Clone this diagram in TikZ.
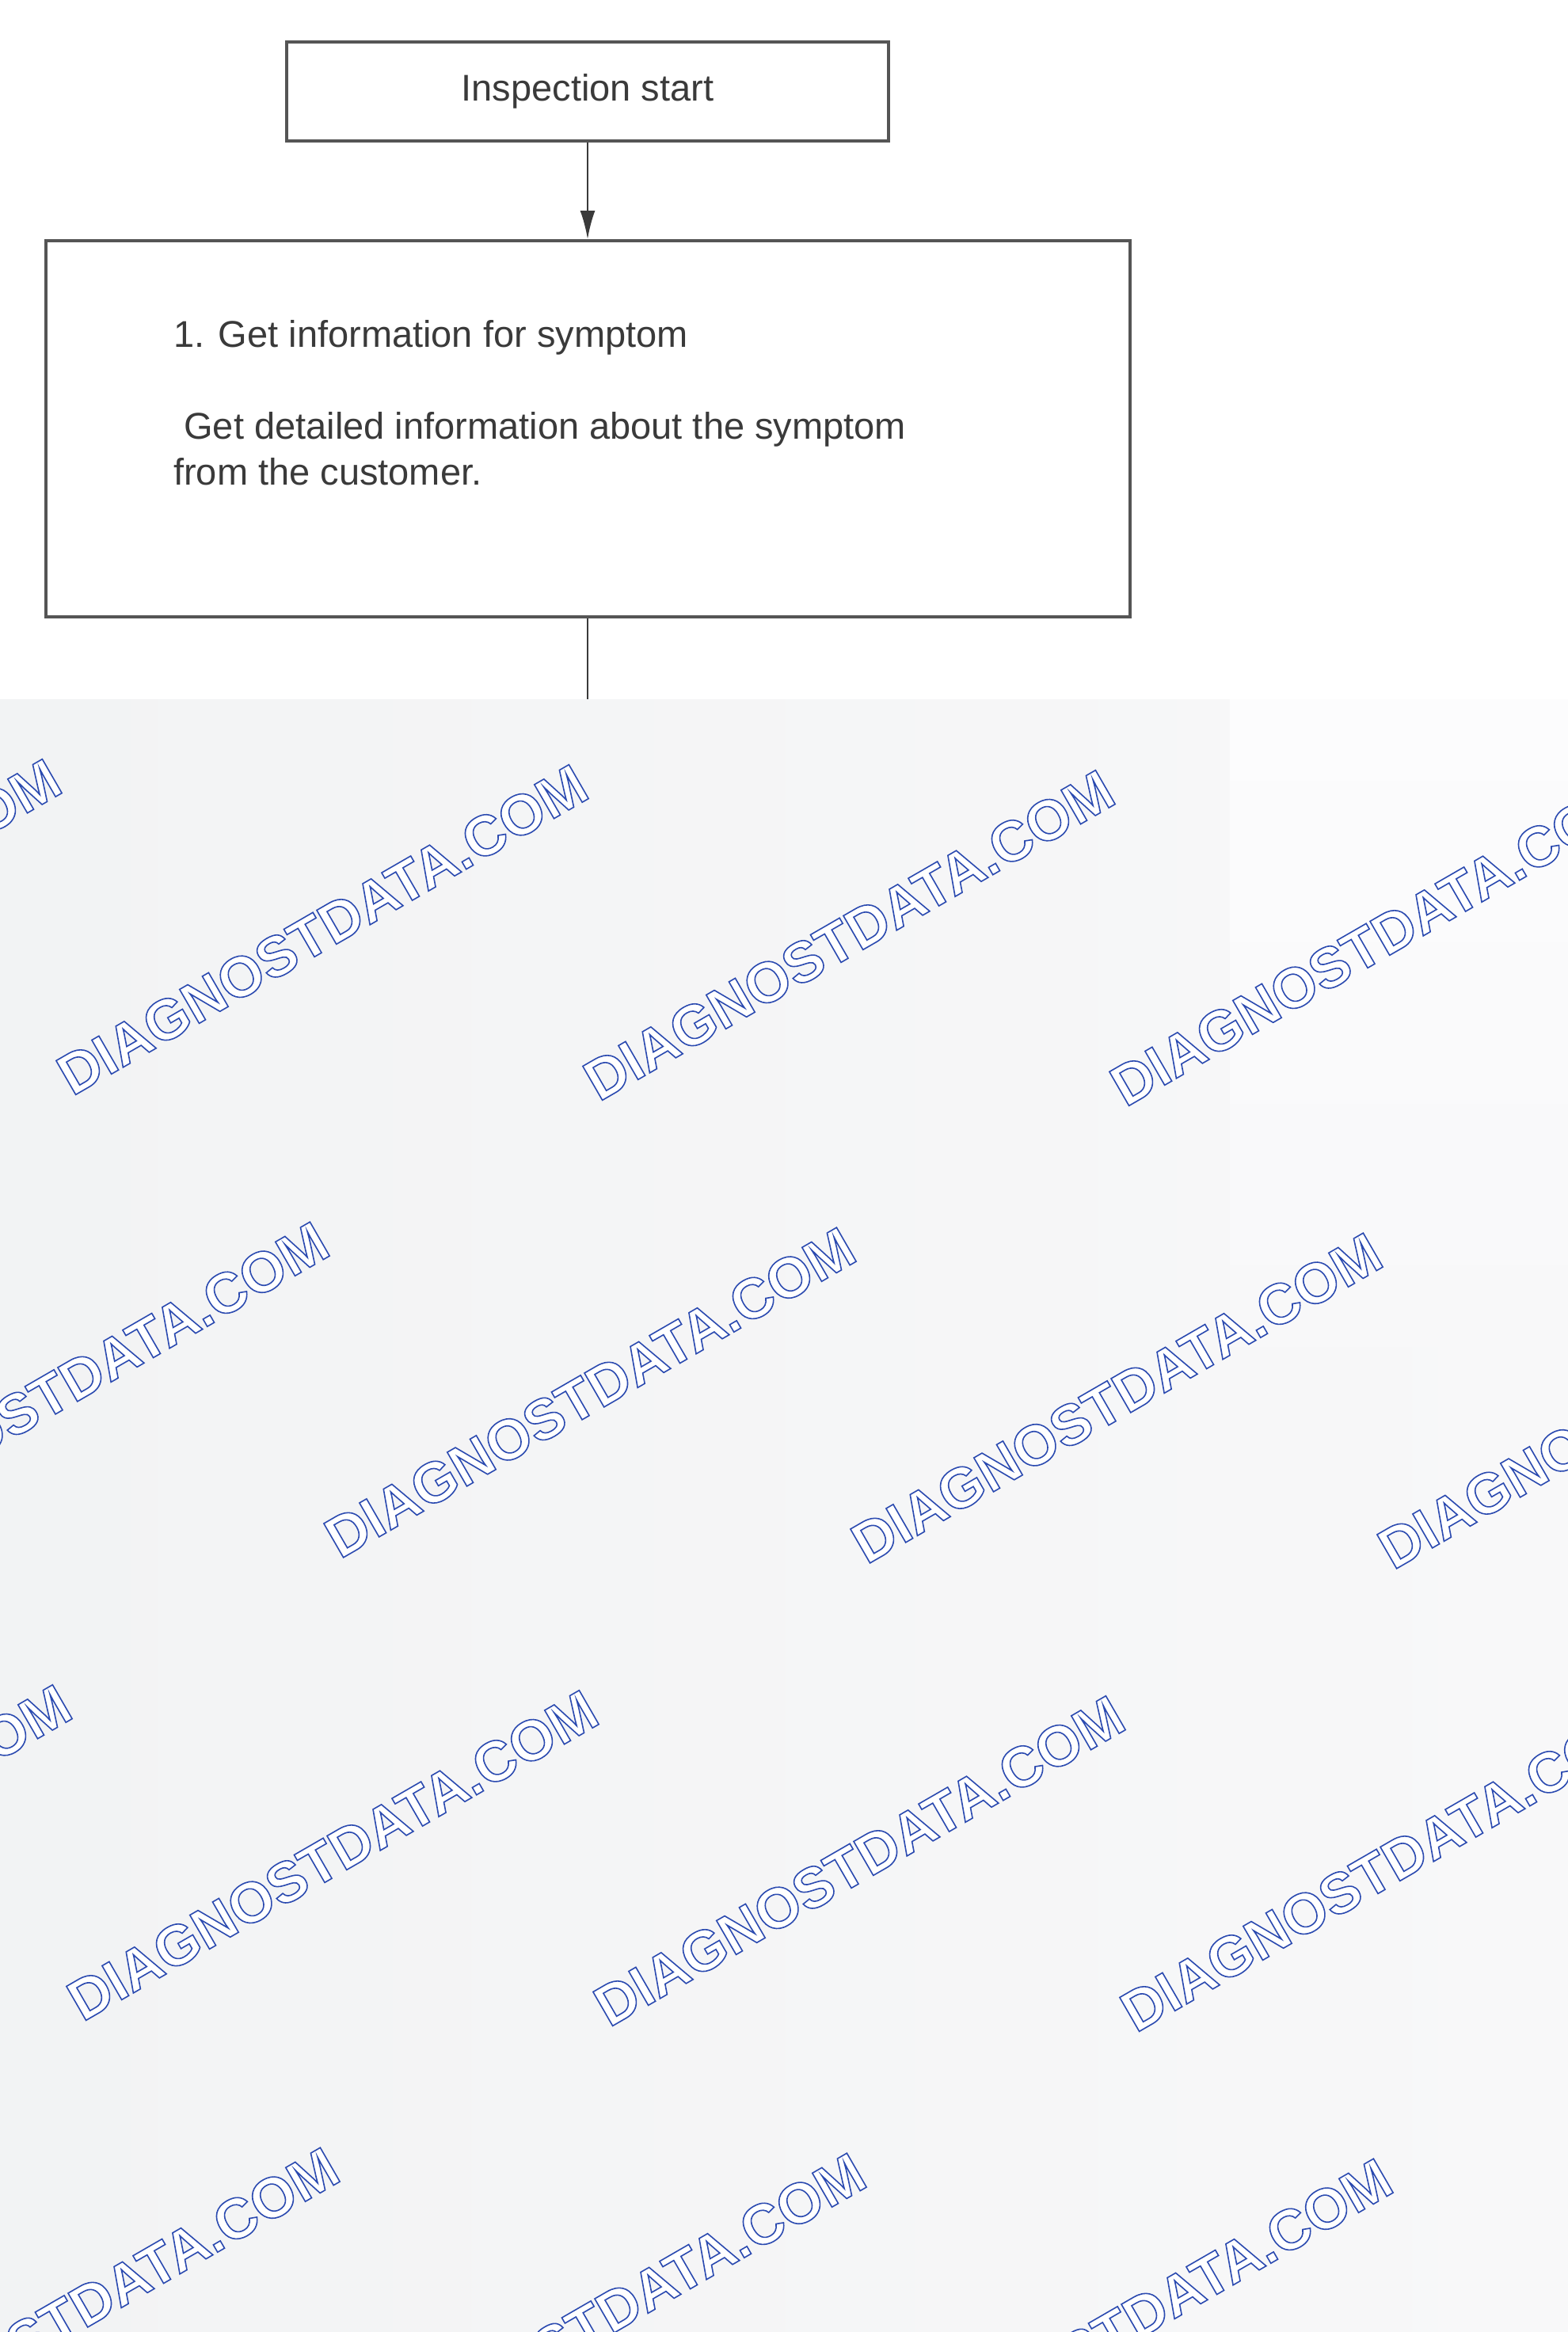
\documentclass[tikz,border=0pt]{standalone}
\usepackage{fontspec}
\usepackage{tikz}
\usetikzlibrary{arrows.meta}
\setmainfont{Liberation Sans}

\definecolor{boxline}{HTML}{555555}
\definecolor{inkgray}{HTML}{3A3A3A}
\definecolor{bgleft}{HTML}{F2F3F4}
\definecolor{bgright}{HTML}{F8F8F9}
\definecolor{bgcorner}{HTML}{FCFCFD}

% white letters with a blue stroke (text render mode 2)
\newcommand\outlinetext[1]{{\color{white}%
  \special{pdf:literal direct 0.17 0.29 0.69 RG 1.6 w 2 Tr}#1%
  \special{pdf:literal direct 0 Tr}}}

\tikzset{
  flowbox/.style={draw=boxline, line width=4pt, text=inkgray, inner sep=0pt,
    font=\fontsize{47}{58}\selectfont},
  steptext/.style={text=inkgray, inner sep=0pt, align=left,
    font=\fontsize{47}{58}\selectfont},
  connector/.style={draw=inkgray, line width=2.5pt},
  watermark/.style={rotate=30, inner sep=0pt,
    font=\bfseries\fontsize{72}{72}\selectfont}
}

\begin{document}
\begin{tikzpicture}[x=1pt,y=-1pt]
    % Define the page corners and the places of the boxes
    \coordinate (topleft) at (0,0);
    \coordinate (bottomright) at (1980,2945);
    \coordinate (startpos) at (742,115.5);
    \coordinate (steppos) at (742,541.5);
    \coordinate (textpos) at (219,404);
    \coordinate (cut) at (742,883);
    \useasboundingbox (topleft) rectangle (bottomright);

    % Draw the boxes
    \node[flowbox, minimum width=760pt, minimum height=125pt] (start) at (startpos) {Inspection start};
    \node[flowbox, minimum width=1369pt, minimum height=475pt] (step1) at (steppos) {};
    \node[steptext, anchor=north west] (step1text) at (textpos)
        {1. Get information for symptom\\[58pt]
         \hspace*{.28em}Get detailed information about the symptom\\
         from the customer.};

    % Draw the connectors
    \draw[connector, -{Latex[length=36pt,width=19pt]}] (start) -- (step1);
    \draw[connector] (step1) -- (cut);

    % Draw the grey sheet over the lower part
    \shade[left color=bgleft, right color=bgright] (0,883) rectangle (1980,2945);
    \shade[top color=bgcorner, bottom color=bgright] (1553,883) rectangle (1980,1700);

    % Draw the watermarks
    \begin{scope}
        \clip (0,883) rectangle (1980,2945);
        \foreach \row in {0,...,3} {
            \foreach \col in {-1,...,2} {
                \pgfmathsetmacro\mx{407+665*\col+338*mod(\row,2)+13*int(\row/2)}
                \pgfmathsetmacro\my{1174+584.5*\row+7*\col}
                \node[watermark] (mark-\row-\col) at (\mx,\my) {\outlinetext{DIAGNOSTDATA.COM}};
            }
        }
    \end{scope}
\end{tikzpicture}
\end{document}
